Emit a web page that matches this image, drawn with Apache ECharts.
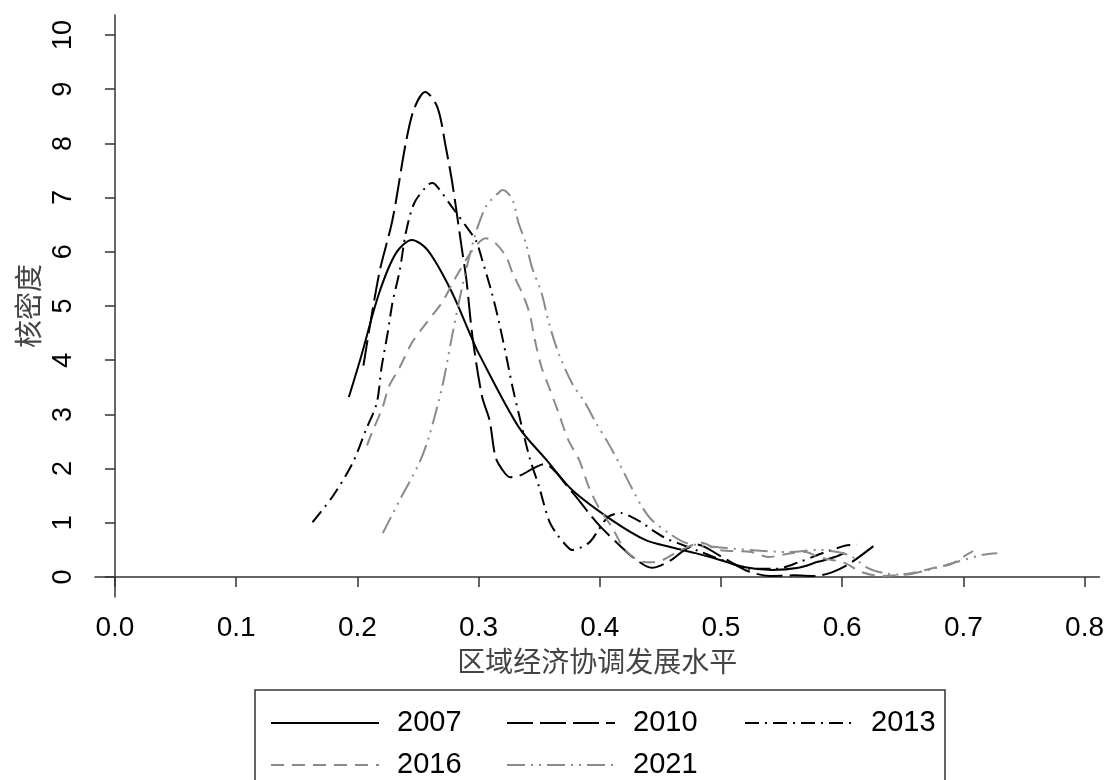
<!DOCTYPE html>
<html>
<head>
<meta charset="utf-8">
<script src="https://cdn.jsdelivr.net/npm/echarts@6/dist/echarts.min.js"></script>
<style>
  html, body { margin: 0; background: #fff; }
  #chart { width: 1107px; height: 780px; }
</style>
</head>
<body>
<div id="chart"></div>
<script>
// --- data (x = coordination level, y = density) ---
const xTicks = [0, 0.1, 0.2, 0.3, 0.4, 0.5, 0.6, 0.7, 0.8];
const yTicks = [0, 1, 2, 3, 4, 5, 6, 7, 8, 9, 10];
const years = ["2007", "2010", "2013", "2016", "2021"];

const d2007 = [[0.193,3.32],[0.203,4.06],[0.218,5.24],[0.232,5.98],[0.245,6.22],[0.258,6.03],[0.277,5.30],
  [0.294,4.43],[0.300,4.13],[0.333,2.77],[0.356,2.16],[0.377,1.61],[0.410,1.05],[0.438,0.68],[0.459,0.55],
  [0.479,0.44],[0.500,0.31],[0.520,0.18],[0.542,0.13],[0.564,0.17],[0.580,0.28],[0.594,0.37],[0.602,0.44]];

const d2010 = [[0.205,3.90],[0.218,5.60],[0.229,6.59],[0.240,8.01],[0.247,8.65],[0.256,8.95],[0.266,8.67],
  [0.273,7.93],[0.278,7.32],[0.282,6.72],[0.286,6.09],[0.290,5.48],[0.295,4.43],[0.303,3.32],[0.309,2.90],
  [0.314,2.21],[0.319,2.00],[0.326,1.84],[0.335,1.88],[0.344,1.99],[0.354,2.08],[0.377,1.57],[0.391,1.18],
  [0.401,0.92],[0.418,0.55],[0.427,0.37],[0.443,0.17],[0.458,0.30],[0.470,0.50],[0.480,0.60],[0.500,0.38],
  [0.520,0.13],[0.540,0.02],[0.560,0.03],[0.578,0.02],[0.592,0.09],[0.607,0.26],[0.627,0.59]];

const d2013 = [[0.163,1.01],[0.180,1.50],[0.196,2.10],[0.207,2.71],[0.216,3.21],[0.220,3.87],[0.225,4.50],
  [0.229,5.06],[0.235,5.66],[0.240,6.35],[0.247,6.90],[0.258,7.23],[0.262,7.27],[0.266,7.20],[0.278,6.83],
  [0.292,6.40],[0.298,6.20],[0.303,5.85],[0.311,5.24],[0.317,4.69],[0.323,4.06],[0.328,3.51],[0.333,3.03],
  [0.342,2.21],[0.350,1.66],[0.358,1.05],[0.364,0.81],[0.372,0.59],[0.377,0.50],[0.391,0.63],[0.399,0.87],
  [0.407,1.11],[0.418,1.18],[0.426,1.11],[0.435,1.00],[0.443,0.87],[0.454,0.72],[0.465,0.62],[0.485,0.45],
  [0.505,0.28],[0.525,0.15],[0.545,0.15],[0.565,0.28],[0.585,0.45],[0.603,0.58],[0.612,0.60]];

const d2016 = [[0.208,2.43],[0.212,2.66],[0.221,3.14],[0.226,3.51],[0.235,3.87],[0.245,4.32],[0.257,4.69],
  [0.270,5.07],[0.281,5.52],[0.295,6.03],[0.306,6.25],[0.314,6.16],[0.323,5.90],[0.328,5.61],[0.336,5.24],
  [0.342,4.87],[0.347,4.32],[0.352,3.87],[0.358,3.51],[0.366,3.03],[0.374,2.53],[0.383,2.16],[0.391,1.66],
  [0.399,1.29],[0.410,0.92],[0.421,0.50],[0.435,0.28],[0.445,0.27],[0.467,0.50],[0.484,0.63],[0.498,0.50],
  [0.525,0.46],[0.539,0.37],[0.558,0.44],[0.570,0.46],[0.580,0.37],[0.602,0.26],[0.616,0.09],[0.632,0.02],
  [0.647,0.04],[0.661,0.09],[0.676,0.17],[0.690,0.24],[0.699,0.36],[0.708,0.48]];

const d2021 = [[0.221,0.81],[0.235,1.42],[0.251,2.10],[0.259,2.58],[0.270,3.51],[0.278,4.43],[0.286,5.30],
  [0.296,6.22],[0.306,6.83],[0.317,7.10],[0.320,7.14],[0.328,6.96],[0.333,6.53],[0.339,6.16],[0.344,5.72],
  [0.352,5.24],[0.358,4.69],[0.366,4.13],[0.377,3.58],[0.388,3.21],[0.397,2.84],[0.407,2.47],[0.416,2.10],
  [0.426,1.66],[0.435,1.29],[0.443,1.05],[0.457,0.81],[0.471,0.63],[0.498,0.55],[0.523,0.50],[0.556,0.46],
  [0.580,0.50],[0.605,0.41],[0.621,0.17],[0.635,0.07],[0.650,0.04],[0.671,0.13],[0.695,0.28],[0.716,0.41],
  [0.728,0.44]];

const curves = [d2007, d2010, d2013, d2016, d2021];
const colors = ["#000000", "#000000", "#000000", "#8a8a8a", "#8a8a8a"];
const dashes = ["solid", [26, 7], [14, 6, 2, 6], [13, 8], [18, 6, 2, 6, 2, 6]];

const NUM_FONT = "'Liberation Sans', Arial, sans-serif";
const CJK_FONT = "'Noto Sans CJK SC', sans-serif";

const chart = echarts.init(document.getElementById("chart"));

// legend: one component per entry so the 3 + 2 grid sits like the original
const legendPos = [[265, 703], [501, 703], [739, 703], [265, 745], [501, 745]];
const legends = years.map((y, i) => ({
  data: [y],
  left: legendPos[i][0],
  top: legendPos[i][1],
  itemWidth: 108,
  itemHeight: 14,
  selectedMode: false,
  itemStyle: { opacity: 0 },
  textStyle: { fontFamily: NUM_FONT, fontSize: 29, lineHeight: 30, color: "#000", padding: [0, 0, 0, 13] }
}));

const option = {
  animation: false,
  backgroundColor: "#fff",
  grid: { left: 95, right: 5, top: 15, bottom: 183 },
  legend: legends,
  graphic: [{
    type: "rect",
    shape: { x: 255, y: 690, width: 690, height: 120 },
    style: { fill: "none", stroke: "#333", lineWidth: 1.5 }
  }],
  xAxis: {
    type: "value",
    min: -20 / 1215,
    max: 987 / 1215,
    name: "区域经济协调发展水平",
    nameLocation: "middle",
    nameGap: 46,
    nameTextStyle: { fontFamily: CJK_FONT, fontSize: 28, color: "#444", verticalAlign: "top" },
    splitLine: { show: false },
    axisLine: { lineStyle: { color: "#333", width: 1.5 } },
    axisTick: { customValues: xTicks, length: 10, lineStyle: { color: "#333", width: 1.5 } },
    axisLabel: {
      customValues: xTicks,
      margin: 17,
      fontFamily: NUM_FONT, fontSize: 28, color: "#000",
      formatter: v => v.toFixed(1)
    }
  },
  yAxis: {
    type: "value",
    min: -20 / 54.2,
    max: 10 + 20 / 54.2,
    name: "核密度",
    nameLocation: "middle",
    nameGap: 50,
    nameRotate: 90,
    nameTextStyle: { fontFamily: CJK_FONT, fontSize: 28, color: "#444" },
    splitLine: { show: false },
    axisLine: { show: true, lineStyle: { color: "#333", width: 1.5 } },
    axisTick: { show: true, customValues: yTicks, length: 10, lineStyle: { color: "#333", width: 1.5 } },
    axisLabel: {
      customValues: yTicks,
      rotate: 90,
      margin: 18,
      fontFamily: NUM_FONT, fontSize: 27, color: "#000"
    }
  },
  series: years.map((y, i) => ({
    name: y,
    type: "line",
    data: curves[i],
    smooth: 0.3,
    symbol: "none",
    lineStyle: { color: colors[i], width: 2, type: dashes[i] },
    itemStyle: { color: colors[i] }
  }))
};

chart.setOption(option);
</script>
</body>
</html>
